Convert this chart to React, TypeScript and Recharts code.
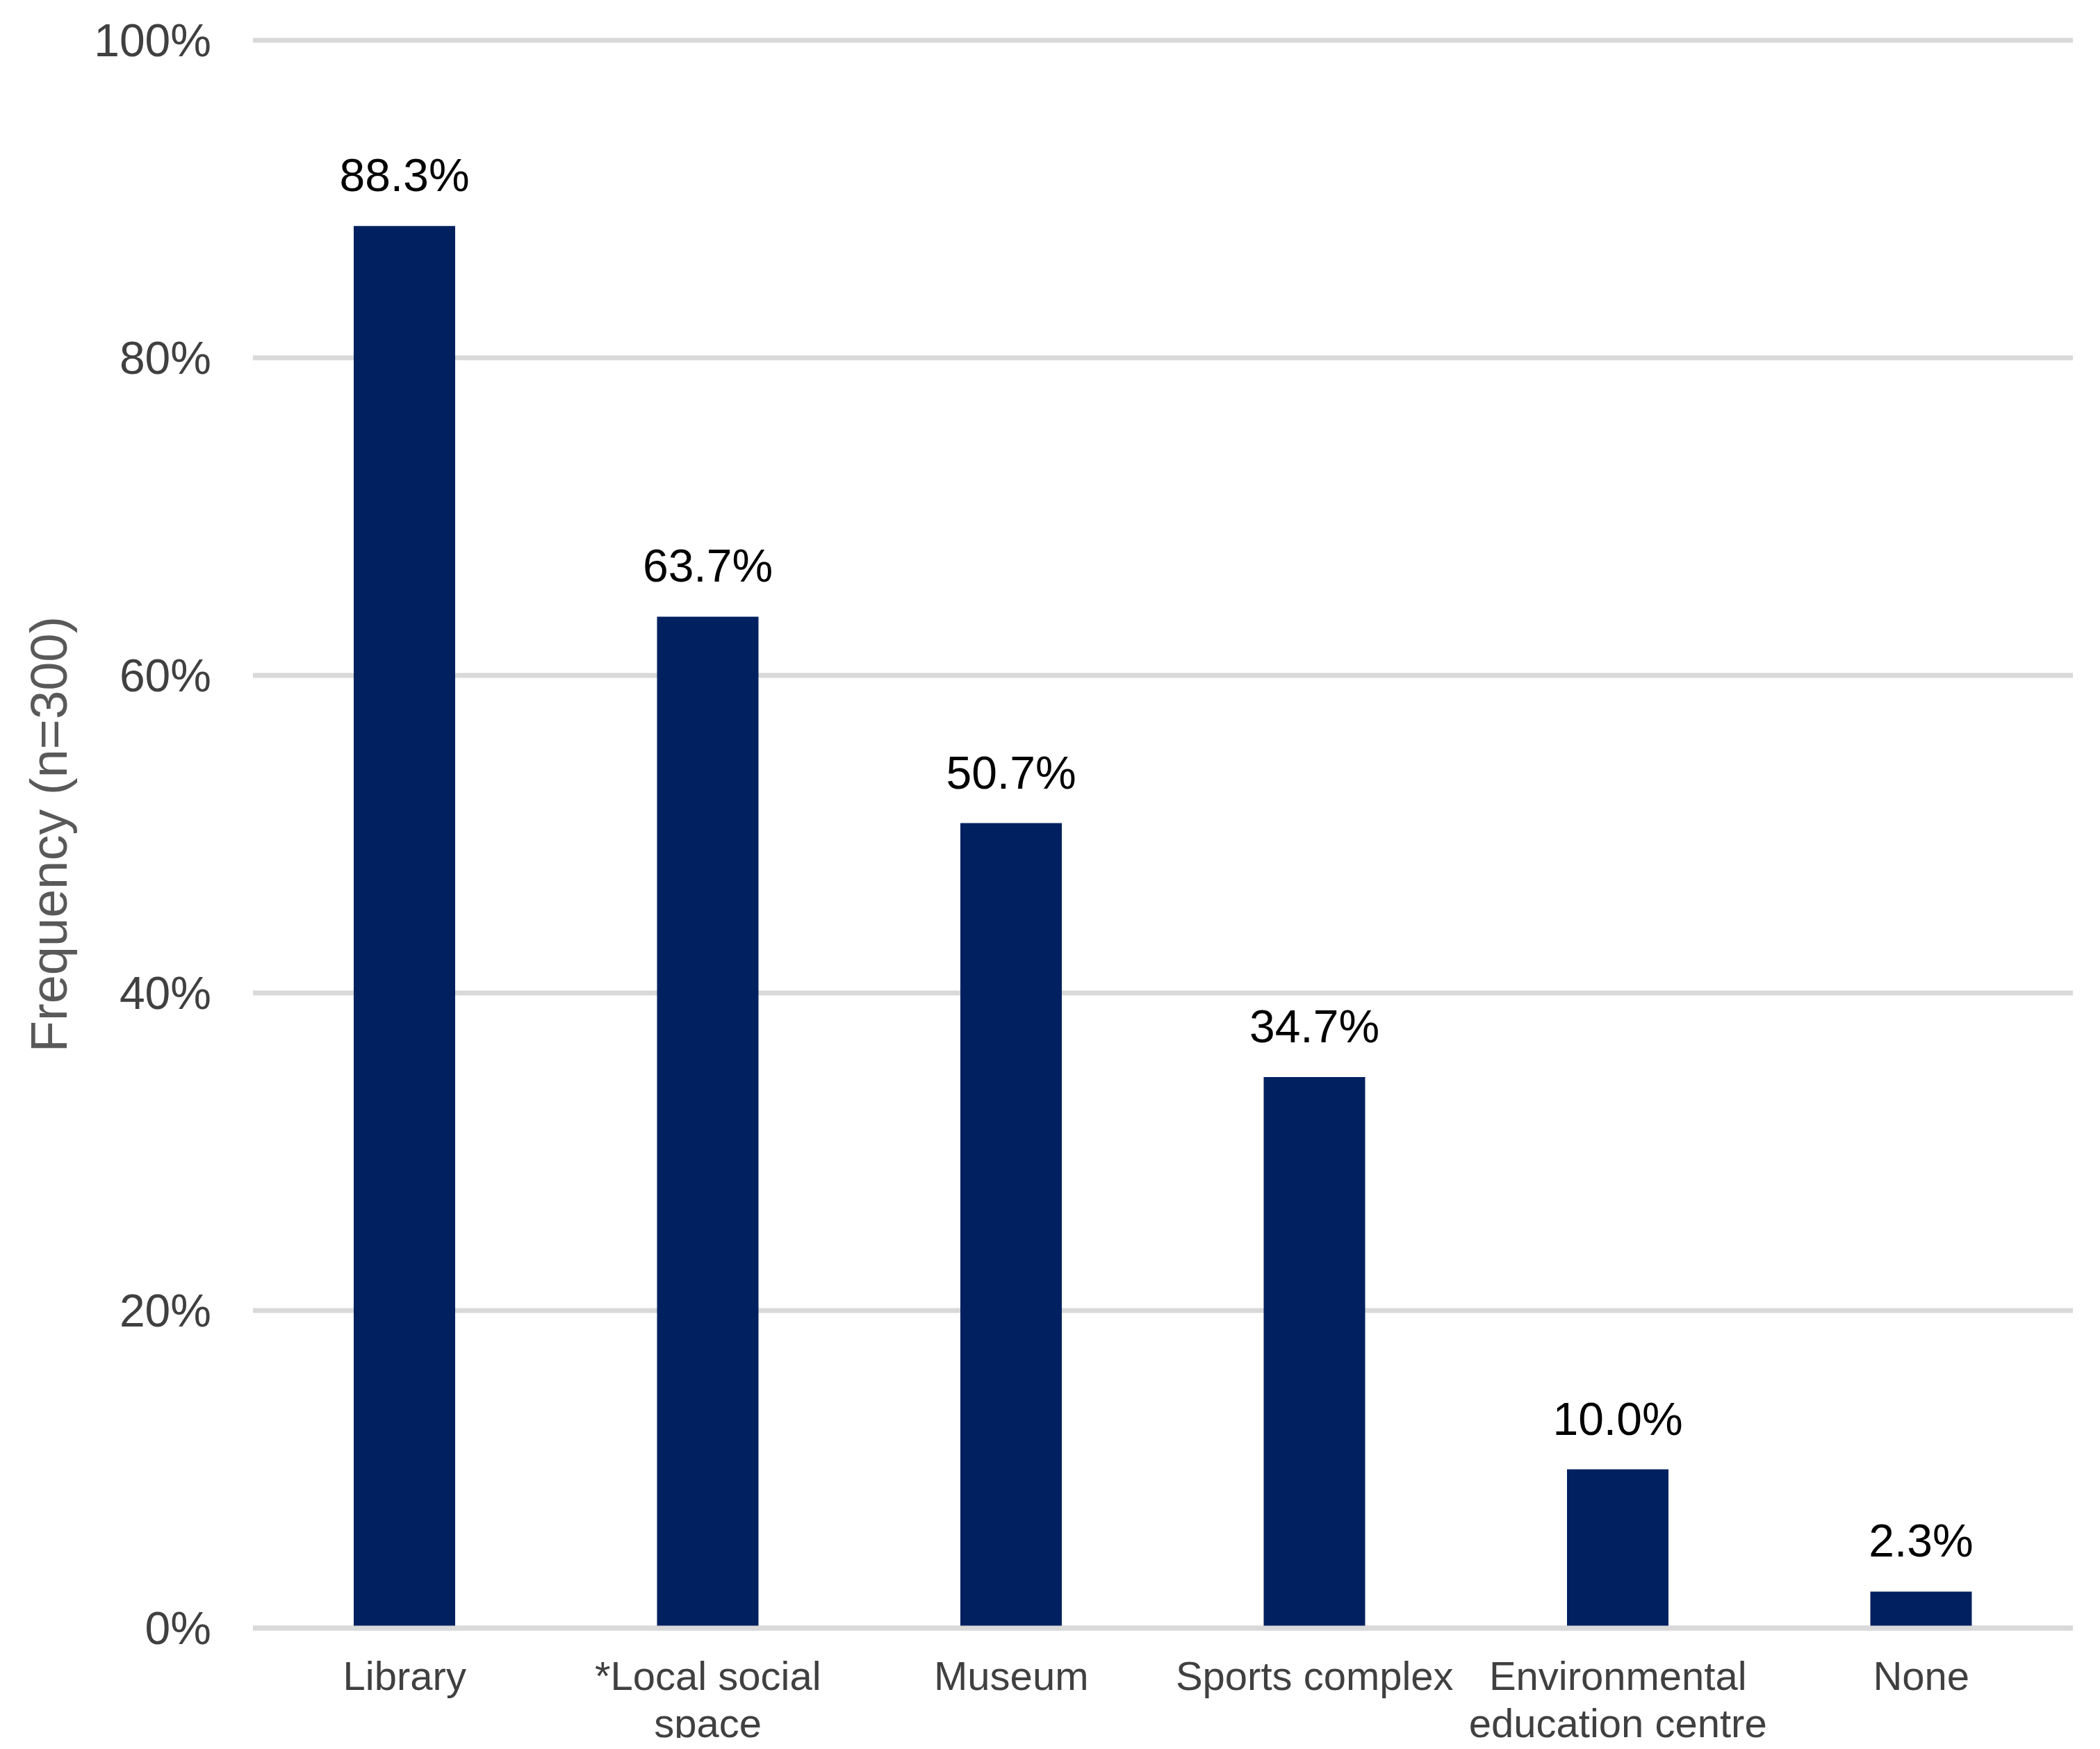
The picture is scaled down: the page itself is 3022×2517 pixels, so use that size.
import React from 'react';
import { BarChart, Bar, XAxis, YAxis, CartesianGrid, LabelList, Label, ReferenceLine } from 'recharts';

const categories = ['Library', '*Local social space', 'Museum', 'Sports complex', 'Environmental education centre', 'None'];
const values = [88.3, 63.7, 50.7, 34.7, 10.0, 2.3];
const yTicks = [0, 20, 40, 60, 80, 100];

const data = categories.map((name, i) => ({ name, value: values[i] }));

const FONT = '"Liberation Sans", Arial, Helvetica, sans-serif';
const X_FONT_SIZE = 58;
const X_WRAP_WIDTH = 445;

let measureCtx: CanvasRenderingContext2D | null = null;
const measure = (s: string): number => {
  if (typeof document === 'undefined') return s.length * X_FONT_SIZE * 0.5;
  if (!measureCtx) {
    const c = document.createElement('canvas');
    measureCtx = c.getContext('2d');
  }
  if (!measureCtx) return s.length * X_FONT_SIZE * 0.5;
  measureCtx.font = `${X_FONT_SIZE}px ${FONT}`;
  return measureCtx.measureText(s).width;
};

const wrapWords = (text: string, maxWidth: number): string[] => {
  const words = text.split(' ');
  const lines: string[] = [];
  let cur = '';
  words.forEach((w) => {
    const test = cur ? `${cur} ${w}` : w;
    if (cur && measure(test) > maxWidth) {
      lines.push(cur);
      cur = w;
    } else {
      cur = test;
    }
  });
  if (cur) lines.push(cur);
  return lines;
};

const XTick = (props: any) => {
  const { x, y, payload } = props;
  const lines = wrapWords(String(payload.value), X_WRAP_WIDTH);
  return (
    <text
      x={x}
      y={y + 89}
      textAnchor="middle"
      fontSize={X_FONT_SIZE}
      fontFamily={FONT}
      fill="#404040"
    >
      {lines.map((l, i) => (
        <tspan key={i} x={x} dy={i === 0 ? 0 : 68}>
          {l}
        </tspan>
      ))}
    </text>
  );
};

const YTitle = (p: any) => {
  const vb = p.viewBox || { y: 0, height: 0 };
  const cx = 62;
  const cy = vb.y + vb.height / 2;
  return (
    <text
      x={cx}
      y={cy}
      transform={`rotate(-90, ${cx}, ${cy})`}
      textAnchor="middle"
      dominantBaseline="central"
      fill="#595959"
      fontSize={74}
      fontFamily={FONT}
    >
      Frequency (n=300)
    </text>
  );
};

export default function App() {
  return (
    <div style={{ width: 3006, height: 2509, marginBottom: -16, fontFamily: FONT, background: '#fff' }}>
      <BarChart
        width={3006}
        height={2509}
        data={data}
        margin={{ top: 50, right: 31, bottom: 24, left: 0 }}
      >
        <CartesianGrid vertical={false} stroke="#d9d9d9" strokeWidth={7} />
        <XAxis
          dataKey="name"
          height={150}
          axisLine={false}
          tickLine={false}
          tickSize={0}
          tickMargin={0}
          interval={0}
          tick={<XTick />}
        />
        <YAxis
          width={356}
          domain={[0, 100]}
          ticks={yTicks}
          interval={0}
          axisLine={false}
          tickLine={false}
          tickSize={0}
          tickMargin={60}
          tickFormatter={(v: number) => `${v}%`}
          tick={{ fill: '#404040', fontSize: 66, fontFamily: FONT }}
        >
          <Label content={<YTitle />} />
        </YAxis>
        <Bar dataKey="value" fill="#002060" barSize={146} isAnimationActive={false}>
          <LabelList
            dataKey="value"
            position="top"
            offset={50}
            formatter={(v: any) => `${Number(v).toFixed(1)}%`}
            fill="#000000"
            fontSize={66}
            fontFamily={FONT}
          />
        </Bar>
        <ReferenceLine y={0} stroke="#d9d9d9" strokeWidth={7} />
      </BarChart>
    </div>
  );
}
